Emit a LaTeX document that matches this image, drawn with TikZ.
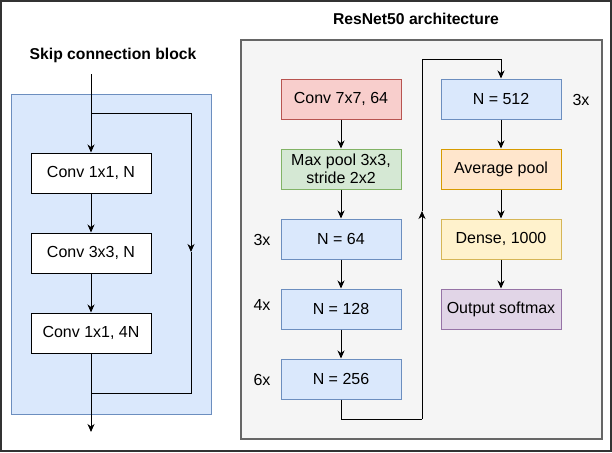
\documentclass[tikz,border=0pt]{standalone}
\usepackage{fontspec}
\setmainfont{Liberation Sans}
\usetikzlibrary{arrows.meta}
\definecolor{bluef}{HTML}{DAE8FC}\definecolor{blued}{HTML}{6C8EBF}
\definecolor{redf}{HTML}{F8CECC}\definecolor{redd}{HTML}{B85450}
\definecolor{greenf}{HTML}{D5E8D4}\definecolor{greend}{HTML}{82B366}
\definecolor{orangef}{HTML}{FFE6CC}\definecolor{oranged}{HTML}{D79B00}
\definecolor{yellowf}{HTML}{FFF2CC}\definecolor{yellowd}{HTML}{D6B656}
\definecolor{purplef}{HTML}{E1D5E7}\definecolor{purpled}{HTML}{9673A6}
\definecolor{grayf}{HTML}{F5F5F5}\definecolor{grayd}{HTML}{666666}
\tikzset{
  lbl/.style={font=\fontsize{16}{18}\selectfont, inner sep=0pt},
  ttl/.style={font=\fontsize{15.7}{18}\selectfont\bfseries, inner sep=0pt},
  blk/.style={draw, line width=1pt, minimum width=120pt, minimum height=40pt, inner sep=1pt, align=center, font=\fontsize{16}{17.5}\selectfont},
  wbox/.style={blk, fill=white, draw=black},
  bbox/.style={blk, fill=bluef, draw=blued},
  conn/.style={line width=0.95pt, -{Stealth[length=8pt,width=7pt,inset=2.5pt]}},
  plain/.style={line width=0.95pt},
}
\begin{document}
\begin{tikzpicture}[x=1pt,y=-1pt]
\useasboundingbox (0,0) rectangle (612,452);
\draw[line width=1.6pt, black!80] (1,1) rectangle (611,451);
% left panel
\node[ttl] (t1) at (113,55) {Skip connection block};
\draw[fill=bluef, draw=blued, line width=1pt] (11,94) rectangle (211,414);
\node[wbox] (c1) at (91,173) {Conv 1x1, N};
\node[wbox] (c2) at (91,253) {Conv 3x3, N};
\node[wbox] (c3) at (91,333) {Conv 1x1, 4N};
\coordinate (in) at (91,74);
\coordinate (sa) at (91,113);
\coordinate (sb) at (191,113);
\coordinate (sm) at (191,252);
\coordinate (sc) at (191,393);
\coordinate (sd) at (91,393);
\coordinate (out) at (91,432);
\draw[conn] (in) -- (c1.north);
\draw[plain] (sa) -- (sb);
\draw[conn] (sb) -- (sm);
\draw[plain] (sm) -- (sc) -- (sd);
\draw[conn] (c1) -- (c2);
\draw[conn] (c2) -- (c3);
\draw[conn] (c3.south) -- (out);
% right panel
\node[ttl] (t2) at (416,19) {ResNet50 architecture};
\draw[fill=grayf, draw=grayd, line width=1.2pt] (241,40) rectangle (602,439);
\node[blk, fill=redf, draw=redd] (r1) at (341,99) {Conv 7x7, 64};
\node[blk, fill=greenf, draw=greend] (r2) at (341,169) {Max pool 3x3,\\stride 2x2};
\node[bbox] (r3) at (341,239) {N = 64};
\node[bbox] (r4) at (341,309) {N = 128};
\node[bbox] (r5) at (341,379) {N = 256};
\node[bbox] (q1) at (501,99) {N = 512};
\node[blk, fill=orangef, draw=oranged] (q2) at (501,169) {Average pool};
\node[blk, fill=yellowf, draw=yellowd] (q3) at (501,239) {Dense, 1000};
\node[blk, fill=purplef, draw=purpled] (q4) at (501,309) {Output softmax};
\node[lbl] (l3) at (262,240) {3x};
\node[lbl] (l4) at (262,305) {4x};
\node[lbl] (l6) at (262,380) {6x};
\node[lbl] (l3b) at (581,100) {3x};
\draw[conn] (r1) -- (r2);
\draw[conn] (r2) -- (r3);
\draw[conn] (r3) -- (r4);
\draw[conn] (r4) -- (r5);
\coordinate (pa) at (341,419);
\coordinate (pb) at (422,419);
\coordinate (pm) at (422,211);
\coordinate (pc) at (422,59);
\coordinate (pd) at (501,59);
\draw[plain] (r5.south) -- (pa) -- (pb);
\draw[conn] (pb) -- (pm);
\draw[plain] (pm) -- (pc) -- (pd);
\draw[conn] (pd) -- (q1.north);
\draw[conn] (q1) -- (q2);
\draw[conn] (q2) -- (q3);
\draw[conn] (q3) -- (q4);
\end{tikzpicture}
\end{document}
